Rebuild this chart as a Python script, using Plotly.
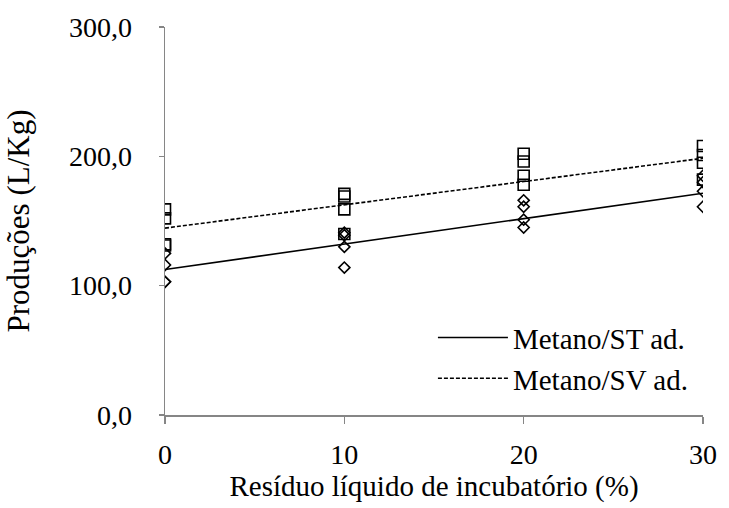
import plotly.graph_objects as go

# Data
x_levels = [0, 10, 20, 30]
x_points = [0, 0, 0, 0, 10, 10, 10, 10, 20, 20, 20, 20, 30, 30, 30, 30]
metano_st = [125, 116, 103, 103, 141, 139, 130, 114, 166, 161, 151, 145, 185, 180, 173, 161]
metano_sv = [159, 152, 132, 131, 171, 169, 159, 140, 202, 196, 185, 178, 208, 201, 195, 182]

trend_x = [0, 30]
st_trend = [112.5, 171.5]
sv_trend = [144.5, 198.5]

y_ticks = [0, 100, 200, 300]
y_tick_labels = ["0,0", "100,0", "200,0", "300,0"]
x_tick_labels = ["0", "10", "20", "30"]

FONT = "Liberation Serif"
FS = 28

fig = go.Figure()

fig.add_trace(go.Scatter(
    x=x_points, y=metano_st, mode="markers", showlegend=False,
    marker=dict(symbol="diamond-open", size=8.5, color="black", line=dict(width=1.6, color="black")),
))
fig.add_trace(go.Scatter(
    x=x_points, y=metano_sv, mode="markers", showlegend=False,
    marker=dict(symbol="square-open", size=11, color="black", line=dict(width=1.6, color="black")),
))
fig.add_trace(go.Scatter(
    x=trend_x, y=st_trend, mode="lines", name="Metano/ST ad.",
    line=dict(color="black", width=1.6),
))
fig.add_trace(go.Scatter(
    x=trend_x, y=sv_trend, mode="lines", name="Metano/SV ad.",
    line=dict(color="black", width=1.6, dash="4px,2px"),
))

fig.update_layout(
    width=729, height=508,
    margin=dict(l=165, r=18, t=23, b=84),
    paper_bgcolor="white", plot_bgcolor="white",
    font=dict(family=FONT, size=FS, color="black"),
    legend=dict(
        x=0.498, y=0.265, xanchor="left", yanchor="top",
        bgcolor="rgba(0,0,0,0)", font=dict(family=FONT, size=29),
        itemwidth=70, tracegroupgap=0,
    ),
    xaxis=dict(
        range=[0, 30], tickvals=x_levels, ticktext=x_tick_labels,
        showgrid=False, zeroline=False, showline=True, linecolor="#868686", linewidth=1.5,
        ticks="outside", ticklen=7, tickcolor="#868686", tickwidth=1.5,
        ticklabelstandoff=7,
        title=dict(text="Resíduo líquido de incubatório (%)", font=dict(family=FONT, size=29), standoff=6),
        fixedrange=True,
    ),
    yaxis=dict(
        range=[0, 300], tickvals=y_ticks, ticktext=y_tick_labels,
        showgrid=False, zeroline=False, showline=True, linecolor="#868686", linewidth=1.5,
        ticks="outside", ticklen=5, tickcolor="#868686", tickwidth=1.5,
        ticklabelstandoff=21,
        title=dict(text="Produções (L/Kg)", font=dict(family=FONT, size=31), standoff=30),
        fixedrange=True,
    ),
)

fig.write_html(
    "out.html",
    config={"displayModeBar": False, "staticPlot": True},
    post_script="document.body.style.margin='0';document.body.style.overflow='hidden';",
)
